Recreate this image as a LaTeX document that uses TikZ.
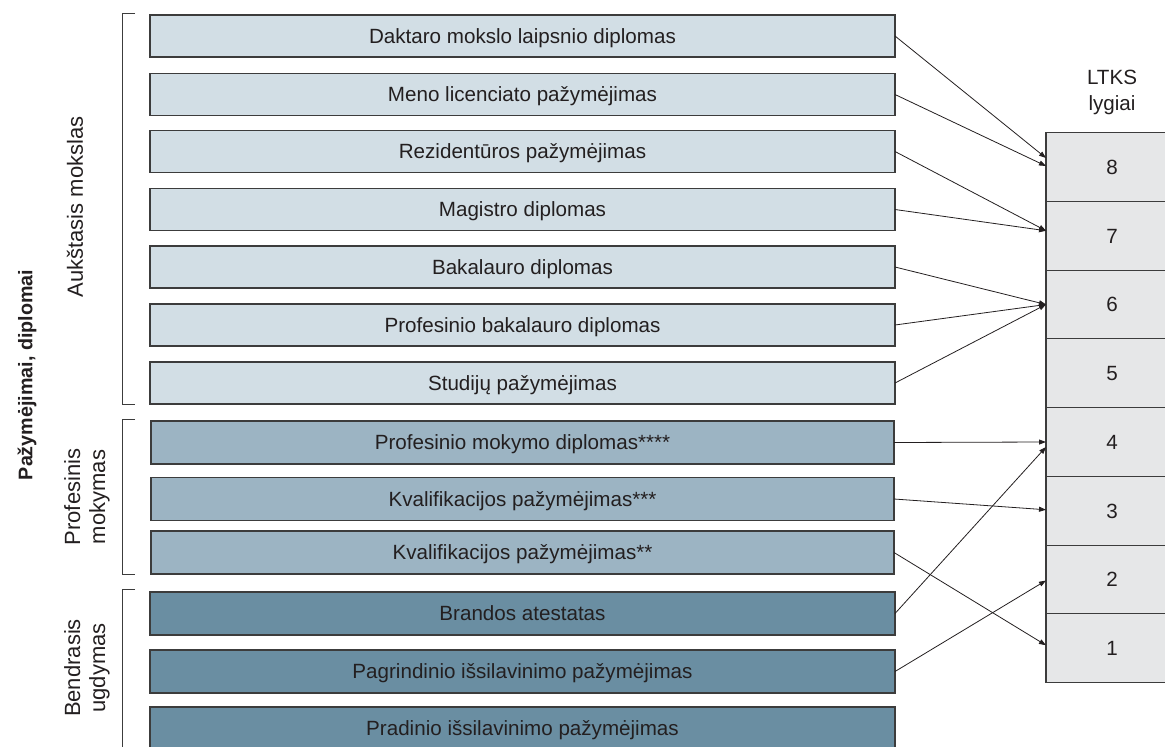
\documentclass[tikz,border=0pt]{standalone}
\usepackage{fontspec}
\setmainfont{Liberation Sans}
\usetikzlibrary{arrows.meta, calc, positioning}

\definecolor{txt}{HTML}{231F20}
\definecolor{edge}{HTML}{3C3C3C}
\definecolor{aukst}{HTML}{D2DEE5}
\definecolor{prof}{HTML}{9CB4C3}
\definecolor{bendr}{HTML}{6A8EA2}
\definecolor{lvlfill}{HTML}{E6E7E8}

\tikzset{
	dipl/.style={draw=edge, line width=1.2pt, minimum width=745pt, minimum height=42pt, inner sep=0pt, outer sep=0pt, text height=14.7pt, text depth=0pt, text=txt, font=\fontsize{20.6}{24}\selectfont},
	lvl/.style={draw=edge, line width=1.2pt, fill=lvlfill, minimum width=132pt, minimum height=68.75pt, inner sep=0pt, outer sep=0pt, text height=14.7pt, text depth=0pt, text=txt, font=\fontsize{20.6}{24}\selectfont},
	sidelbl/.style={rotate=90, align=center, text=txt, font=\fontsize{22}{25}\selectfont},
	brk/.style={draw=edge, line width=1pt},
	link/.style={draw=txt, line width=0.8pt, -{Triangle[length=7pt,width=5pt]}}
}

\begin{document}
\begin{tikzpicture}[x=1pt, y=-1pt]
		\useasboundingbox (0,0) rectangle (1165,747);
		% diplomai
		\node[dipl, fill=aukst] (dakt) at (522.5,36) {Daktaro mokslo laipsnio diplomas};
		\node[dipl, fill=aukst] (meno) at (522.5,94.5) {Meno licenciato pažymėjimas};
		\node[dipl, fill=aukst] (rez) at (522.5,151.5) {Rezidentūros pažymėjimas};
		\node[dipl, fill=aukst] (mag) at (522.5,209.5) {Magistro diplomas};
		\node[dipl, fill=aukst] (bak) at (522.5,267) {Bakalauro diplomas};
		\node[dipl, fill=aukst] (pbak) at (522.5,325) {Profesinio bakalauro diplomas};
		\node[dipl, fill=aukst] (stud) at (522.5,383) {Studijų pažymėjimas};
		
		\node[dipl, fill=prof, minimum width=743pt, minimum height=43pt] (pmd) at (522.5,442.5) {Profesinio mokymo diplomas****};
		\node[dipl, fill=prof, minimum width=743pt, minimum height=43pt] (kv3) at (522.5,499) {Kvalifikacijos pažymėjimas***};
		\node[dipl, fill=prof, minimum width=743pt, minimum height=43pt] (kv2) at (522.5,552.5) {Kvalifikacijos pažymėjimas**};
		
		\node[dipl, fill=bendr, minimum height=43pt] (bra) at (522.5,613.5) {Brandos atestatas};
		\node[dipl, fill=bendr, minimum height=43pt] (pag) at (522.5,671.5) {Pagrindinio išsilavinimo pažymėjimas};
		\node[dipl, fill=bendr, minimum height=43pt] (pra) at (522.5,728.5) {Pradinio išsilavinimo pažymėjimas};
		
		% skliaustai ir antrastes
		\draw[brk] (135,13) -- (122,13) -- (122,404) -- (135,404);
		\draw[brk] (135,419) -- (122,419) -- (122,574) -- (135,574);
		\draw[brk] (135,589) -- (122,589) -- (122,760);
		\node[sidelbl] (auk) at (75,207) {Aukštasis mokslas};
		\node[sidelbl] (pm) at (87,497) {Profesinis\\mokymas};
		\node[sidelbl] (bu) at (87,668) {Bendrasis\\ugdymas};
		\node[sidelbl, font=\fontsize{19.7}{24}\selectfont\bfseries] (pd) at (27,375) {Pažymėjimai, diplomai};
		
		% LTKS lygiai
		\node[align=center, text=txt, font=\fontsize{20.6}{26}\selectfont] (ltks) at (1112,92) {LTKS\\lygiai};
		\node[lvl] (l8) at (1112,167) {8};
		\node[lvl, below=0pt of l8] (l7) {7};
		\node[lvl, below=0pt of l7] (l6) {6};
		\node[lvl, below=0pt of l6] (l5) {5};
		\node[lvl, below=0pt of l5] (l4) {4};
		\node[lvl, below=0pt of l4] (l3) {3};
		\node[lvl, below=0pt of l3] (l2) {2};
		\node[lvl, below=0pt of l2] (l1) {1};
		
		\draw[link] (dakt.east) -- ([yshift=9pt]l8.west); \draw[link] (meno.east) -- ([yshift=1pt]l8.west);
		\draw[link] (rez.east) -- ([yshift=5pt]l7.west); \draw[link] (mag.east) -- ([yshift=5pt]l7.west);
		\draw[link] (bak.east) -- (l6.west); \draw[link] (pbak.east) -- (l6.west); \draw[link] (stud.east) -- (l6.west);
		\draw[link] (pmd.east) -- (l4.west); \draw[link] (bra.east) -- ([yshift=-5pt]l4.west);
		\draw[link] (kv3.east) -- ([yshift=1pt]l3.west);
		\draw[link] (pag.east) -- ([yshift=-1pt]l2.west);
		\draw[link] (kv2.east) -- ([yshift=3pt]l1.west);
	\end{tikzpicture}
\end{document}
